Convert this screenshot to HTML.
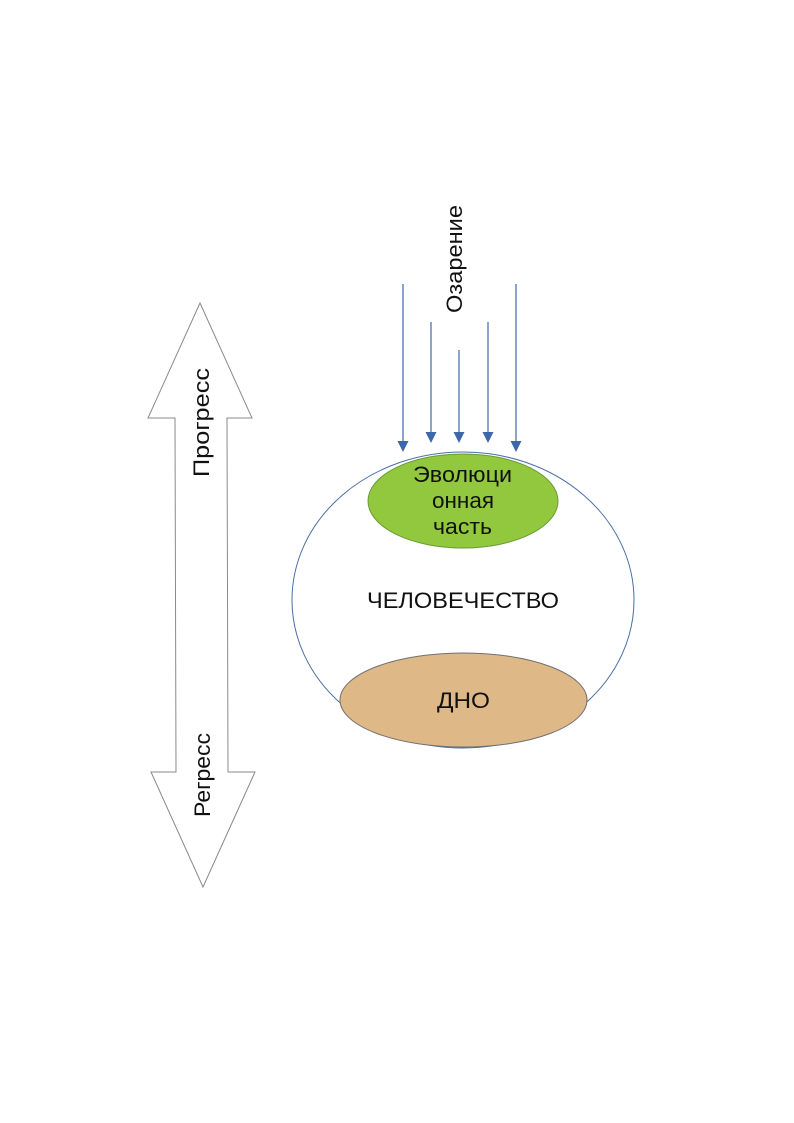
<!DOCTYPE html>
<html>
<head>
<meta charset="utf-8">
<style>
  html, body { margin: 0; padding: 0; background: #ffffff; }
  svg { display: block; }
  text { font-family: "Liberation Sans", "Noto Sans CJK SC", sans-serif; fill: #111; }
</style>
</head>
<body>
<svg width="794" height="1123" viewBox="0 0 794 1123" xmlns="http://www.w3.org/2000/svg">
  <rect x="0" y="0" width="794" height="1123" fill="#ffffff"/>

  <!-- Double arrow Progress / Regress -->
  <polygon points="200,303 252,418 227,418 228,772 255,772 203,887 151,772 176,772 175,418 148,418"
           fill="#ffffff" stroke="#8a8a8a" stroke-width="1"/>
  <text transform="translate(209,477) rotate(-90)" font-size="22" textLength="109" lengthAdjust="spacingAndGlyphs">Прогресс</text>
  <text transform="translate(210,817) rotate(-90)" font-size="22" textLength="84" lengthAdjust="spacingAndGlyphs">Регресс</text>

  <!-- Big ellipse -->
  <ellipse cx="463" cy="600" rx="171" ry="148" fill="#ffffff" stroke="#4a6fa5" stroke-width="1"/>

  <!-- Green ellipse -->
  <ellipse cx="463" cy="501" rx="95" ry="47" fill="#92c83e" stroke="#6a9a34" stroke-width="1"/>
  <text x="413" y="482" font-size="22" textLength="99" lengthAdjust="spacingAndGlyphs">Эволюци</text>
  <text x="432" y="508" font-size="22" textLength="62" lengthAdjust="spacingAndGlyphs">онная</text>
  <text x="433" y="534" font-size="22" textLength="59" lengthAdjust="spacingAndGlyphs">часть</text>

  <!-- Центр -->
  <text x="367" y="608" font-size="22" textLength="192" lengthAdjust="spacingAndGlyphs">ЧЕЛОВЕЧЕСТВО</text>

  <!-- Brown ellipse -->
  <ellipse cx="463.5" cy="700" rx="123.5" ry="47" fill="#dfb887" stroke="#707070" stroke-width="1"/>
  <text x="437" y="708" font-size="22" textLength="53" lengthAdjust="spacingAndGlyphs">ДНО</text>

  <!-- Blue arrows -->
  <g stroke="#4a72b0" stroke-width="1.3">
    <line x1="403" y1="284" x2="403" y2="442"/>
    <line x1="431" y1="322" x2="431" y2="433"/>
    <line x1="459" y1="350" x2="459" y2="433"/>
    <line x1="488" y1="322" x2="488" y2="433"/>
    <line x1="516" y1="284" x2="516" y2="442"/>
  </g>
  <g fill="#3d67a8">
    <polygon points="397.5,441 408.5,441 403,452"/>
    <polygon points="425.5,432 436.5,432 431,443"/>
    <polygon points="453.5,432 464.5,432 459,443"/>
    <polygon points="482.5,432 493.5,432 488,443"/>
    <polygon points="510.5,441 521.5,441 516,452"/>
  </g>
  <text transform="translate(462,313) rotate(-90)" font-size="22" textLength="108" lengthAdjust="spacingAndGlyphs">Озарение</text>
</svg>
</body>
</html>
